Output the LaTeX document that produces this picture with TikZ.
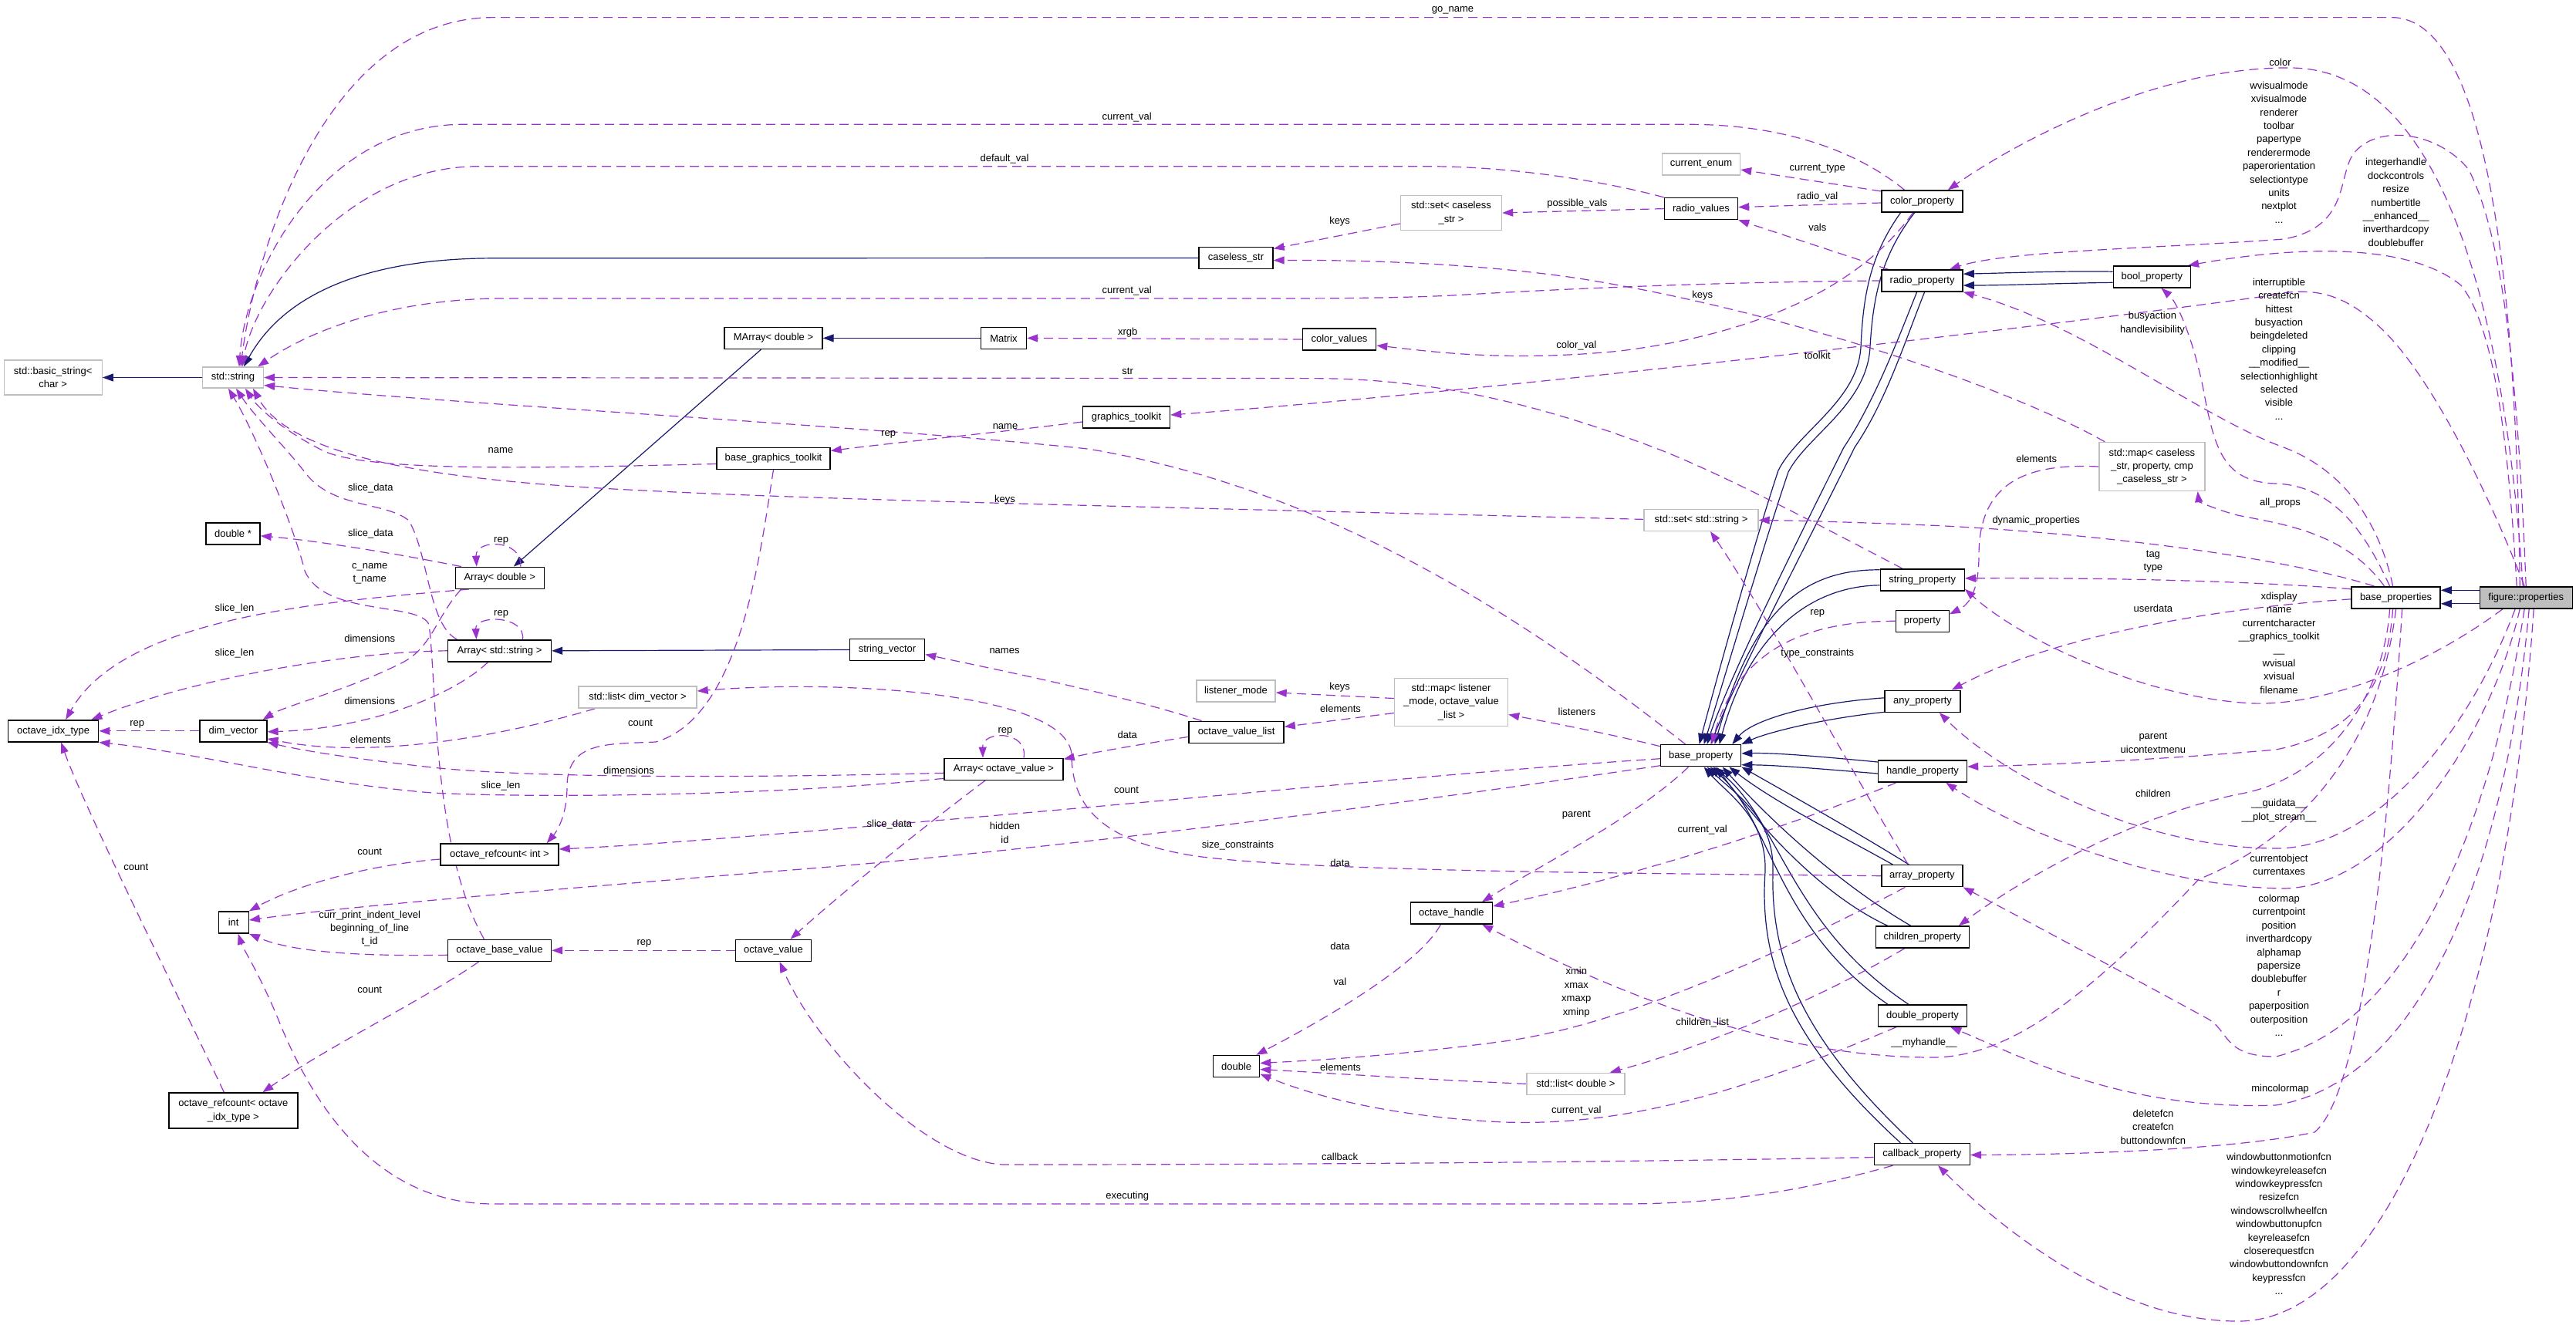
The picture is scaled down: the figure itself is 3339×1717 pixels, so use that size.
\documentclass[tikz,border=0pt]{standalone}
\usepackage{fontspec}
\setmainfont{Liberation Sans}
\usetikzlibrary{arrows.meta}
\definecolor{purp}{HTML}{9A32CD}
\definecolor{navy}{HTML}{191970}
\definecolor{gbord}{HTML}{BFBFBF}
\newcommand\dgfont{\fontsize{13}{17.4}\selectfont}
\pgfdeclarelayer{bglayer}
\pgfdeclarelayer{edgelayer}
\pgfsetlayers{bglayer,edgelayer,main}
\begin{document}
\begin{tikzpicture}[x=1pt,y=-1pt,
  cbox/.style={draw=black, line width=1.4pt, fill=white, inner sep=0pt, font=\dgfont, align=center, minimum height=28pt},
  gbox/.style={cbox, draw=gbord},
  elabel/.style={font=\dgfont, align=center, inner sep=0pt},
  usesarrow/.style={draw=purp, line width=1.2pt, dash pattern=on 12pt off 7pt, -{Triangle[length=14pt,width=10pt]}},
  inharrow/.style={draw=navy, line width=1.2pt, -{Triangle[length=14pt,width=10pt]}}]
\begin{pgfonlayer}{bglayer}
\path[fill=white] (0,0) rectangle (3339,1717);
\end{pgfonlayer}
\useasboundingbox (0,0) rectangle (3339,1717);
% ---------------- nodes ----------------
\node[gbox, minimum width=127pt, minimum height=45pt] (bstr) at (68.7,489.5) {std::basic\_string<\\char >};
\node[gbox, minimum width=79pt, minimum height=27pt] (sstr) at (302,489.5) {std::string};
\node[cbox, minimum width=96pt] (caseless) at (1602,334.5) {caseless\_str};
\node[cbox, minimum width=127pt] (marray) at (1002.5,438.4) {MArray< double >};
\node[cbox, minimum width=59pt] (matrix) at (1301,438.4) {Matrix};
\node[cbox, minimum width=113pt] (gtk) at (1460,541) {graphics\_toolkit};
\node[gbox, minimum width=101pt] (curenum) at (2205,213) {current\_enum};
\node[gbox, minimum width=131pt, minimum height=45pt] (setcl) at (1881,276) {std::set< caseless\\\_str >};
\node[cbox, minimum width=95pt] (radiovals) at (2205,270.6) {radio\_values};
\node[cbox, minimum width=105pt] (colorprop) at (2491.6,261) {color\_property};
\node[cbox, minimum width=105pt] (radioprop) at (2491.6,364) {radio\_property};
\node[cbox, minimum width=95pt] (colorvals) at (1736,440) {color\_values};
\node[cbox, minimum width=100pt] (boolprop) at (2789.4,358.9) {bool\_property};
\node[cbox, minimum width=70pt] (dblptr) at (302,691.8) {double *};
\node[cbox, minimum width=115pt] (arrd) at (647.8,749.3) {Array< double >};
\node[cbox, minimum width=134pt] (arrs) at (647.5,843.8) {Array< std::string >};
\node[cbox, minimum width=117pt] (idx) at (69.2,947.8) {octave\_idx\_type};
\node[cbox, minimum width=87pt] (dimv) at (302.4,947.8) {dim\_vector};
\node[gbox, minimum width=153pt] (listdim) at (826.5,904) {std::list< dim\_vector >};
\node[cbox, minimum width=153pt] (rcint) at (647.5,1108) {octave\_refcount< int >};
\node[cbox, minimum width=147pt] (bgtk) at (1002.5,594.5) {base\_graphics\_toolkit};
\node[cbox, minimum width=97pt] (strvec) at (1150,842.5) {string\_vector};
\node[gbox, minimum width=102pt] (lmode) at (1602,896) {listener\_mode};
\node[cbox, minimum width=123pt] (ovl) at (1602.6,949.3) {octave\_value\_list};
\node[cbox, minimum width=154pt] (arrov) at (1301,997.3) {Array< octave\_value >};
\node[gbox, minimum width=148pt] (setstr) at (2205,674.4) {std::set< std::string >};
\node[cbox, minimum width=109pt] (strprop) at (2491.7,751.8) {string\_property};
\node[cbox, minimum width=69pt] (prop) at (2491.7,805.3) {property};
\node[gbox, minimum width=147pt, minimum height=62pt] (maplis) at (1881,910.5) {std::map< listener\\\_mode, octave\_value\\\_list >};
\node[cbox, minimum width=98pt] (anyprop) at (2492,909.3) {any\_property};
\node[cbox, minimum width=104pt] (baseprop) at (2204.6,979.7) {base\_property};
\node[cbox, minimum width=115pt] (handprop) at (2492,1000) {handle\_property};
\node[cbox, minimum width=105pt] (arrprop) at (2491.4,1135.7) {array\_property};
\node[gbox, minimum width=137pt, minimum height=63pt] (mapcl) at (2789.4,605) {std::map< caseless\\\_str, property, cmp\\\_caseless\_str >};
\node[cbox, minimum width=115pt] (baseprops) at (3105.6,774.8) {base\_properties};
\node[cbox, fill=gbord, minimum width=120pt] (figprops) at (3274.2,774.8) {figure::properties};
\node[cbox, minimum width=39pt] (int) at (302.7,1196) {int};
\node[cbox, minimum width=134pt] (obv) at (647.5,1232.3) {octave\_base\_value};
\node[cbox, minimum width=167pt, minimum height=46pt] (rcidx) at (302.4,1440) {octave\_refcount< octave\\\_idx\_type >};
\node[cbox, minimum width=98pt] (ov) at (1002.5,1232.3) {octave\_value};
\node[cbox, minimum width=60pt] (dbl) at (1602.6,1382.5) {double};
\node[cbox, minimum width=106pt] (ohandle) at (1881.4,1184) {octave\_handle};
\node[gbox, minimum width=127pt] (listdbl) at (2042.4,1405.3) {std::list< double >};
\node[cbox, minimum width=121pt] (childprop) at (2491.7,1215) {children\_property};
\node[cbox, minimum width=115pt] (dblprop) at (2492,1317) {double\_property};
\node[cbox, minimum width=124pt] (cbprop) at (2491.4,1496.5) {callback\_property};
% ---------------- edges ----------------
\begin{pgfonlayer}{edgelayer}
% inheritance
\draw[inharrow] (sstr.west) -- (bstr.east);
\draw[inharrow] (caseless.west) -- (640,334.8) .. controls (520,334.8) and (380,360) .. ([xshift=14pt]sstr.north);
\draw[inharrow] (matrix.west) -- (marray.east);
\draw[inharrow] ([xshift=-16pt]marray.south) -- ([xshift=18pt]arrd.north);
\draw[inharrow] (strvec.west) -- (arrs.east);
\draw[inharrow] ([yshift=9.5pt]figprops.west) -- ([yshift=9.5pt]baseprops.east);
\draw[inharrow] ([yshift=-8pt]figprops.west) -- ([yshift=-8pt]baseprops.east);
\draw[inharrow] ([yshift=6.7pt]boolprop.west) .. controls (2680,351) and (2600,354) .. ([yshift=8.8pt]radioprop.east);
\draw[inharrow] ([yshift=-7.4pt]boolprop.west) .. controls (2680,367) and (2600,370) .. ([yshift=-6pt]radioprop.east);
% property classes -> base_property
\draw[inharrow] ([xshift=-28pt]colorprop.south) .. controls (2425,330) and (2415,380) .. (2412,450) .. controls (2408,520) and (2330,560) .. (2305,610) .. controls (2275,700) and (2225,880) .. ([xshift=-2pt]baseprop.north);
\draw[inharrow] ([xshift=-10pt]colorprop.south) .. controls (2440,330) and (2428,380) .. (2424,450) .. controls (2420,525) and (2342,565) .. (2318,612) .. controls (2288,700) and (2235,880) .. ([xshift=4pt]baseprop.north);
\draw[inharrow] ([xshift=-7pt]radioprop.south) .. controls (2460,440) and (2430,520) .. (2390,580) .. controls (2340,680) and (2240,880) .. ([xshift=8pt]baseprop.north);
\draw[inharrow] ([xshift=3pt]radioprop.south) .. controls (2470,440) and (2445,520) .. (2404,580) .. controls (2355,680) and (2250,880) .. ([xshift=13pt]baseprop.north);
\draw[inharrow] ([yshift=13pt]strprop.west) .. controls (2330,738) and (2270,800) .. ([xshift=18pt]baseprop.north);
\draw[inharrow] ([yshift=-7pt]strprop.west) .. controls (2340,760) and (2265,830) .. ([xshift=24pt]baseprop.north);
\draw[inharrow] ([yshift=4.5pt]anyprop.west) .. controls (2340,912) and (2270,935) .. ([xshift=-12pt]baseprop.north east);
\draw[inharrow] ([yshift=-14pt]anyprop.west) .. controls (2360,932) and (2290,950) .. (baseprop.north east);
\draw[inharrow] ([yshift=12pt]handprop.west) .. controls (2350,980) and (2300,976) .. ([yshift=2.8pt]baseprop.east);
\draw[inharrow] ([yshift=-3pt]handprop.west) .. controls (2350,996) and (2300,992) .. ([yshift=-12pt]baseprop.east);
\draw[inharrow] ([xshift=-17pt]arrprop.north) .. controls (2400,1075) and (2320,1030) .. (baseprop.south east);
\draw[inharrow] ([xshift=-38pt]arrprop.north) .. controls (2380,1080) and (2300,1040) .. ([xshift=-16pt]baseprop.south east);
\draw[inharrow] ([xshift=-45pt]childprop.north) .. controls (2360,1160) and (2280,1070) .. ([xshift=20pt]baseprop.south);
\draw[inharrow] ([xshift=-15pt]childprop.north) .. controls (2390,1150) and (2300,1070) .. ([xshift=28pt]baseprop.south);
\draw[inharrow] ([xshift=-45pt]dblprop.north) .. controls (2300,1200) and (2295,1060) .. ([xshift=12pt]baseprop.south);
\draw[inharrow] ([xshift=-18pt]dblprop.north) .. controls (2320,1200) and (2305,1060) .. ([xshift=16pt]baseprop.south);
\draw[inharrow] ([xshift=-28pt]cbprop.north) .. controls (2320,1350) and (2280,1250) .. (2288,1130) .. controls (2290,1060) and (2240,1030) .. ([xshift=4pt]baseprop.south);
\draw[inharrow] ([xshift=-12pt]cbprop.north) .. controls (2340,1350) and (2295,1250) .. (2298,1130) .. controls (2300,1060) and (2250,1030) .. ([xshift=8pt]baseprop.south);
% usage edges
\draw[usesarrow] ([xshift=-8pt]figprops.north) .. controls (3262,400) and (3230,22.6) .. (3100,22.6) -- (640,22.6) .. controls (420,22.6) and (330,330) .. ([xshift=10pt]sstr.north);
\draw[usesarrow] ([xshift=-4pt]figprops.north) .. controls (3250,450) and (3180,90) .. (2970,88) .. controls (2800,86) and (2620,180) .. ([xshift=-20pt]colorprop.north east);
\draw[usesarrow] (figprops.north) .. controls (3262,450) and (3240,300) .. (3200,220) .. controls (3160,170) and (3080,160) .. (3050,200) .. controls (3030,230) and (3045,295) .. (2960,310) .. controls (2800,322) and (2600,325) .. ([xshift=-18pt]radioprop.north east);
\draw[usesarrow] ([xshift=-12pt]figprops.north) .. controls (3250,550) and (3230,420) .. (3190,370) .. controls (3130,320) and (3000,315) .. ([xshift=-4pt]boolprop.north east);
\draw[usesarrow] ([xshift=-2pt]figprops.north) .. controls (3230,650) and (3150,480) .. (3080,420) .. controls (3030,375) and (2990,372) .. (2931,384.8) .. controls (2600,430) and (1900,510) .. ([yshift=3pt]gtk.east);
\draw[usesarrow] ([yshift=13pt]colorprop.west) -- ([yshift=-7pt]curenum.east);
\draw[usesarrow] ([yshift=-2pt]colorprop.west) -- ([yshift=2pt]radiovals.east);
\draw[usesarrow] ([xshift=-44pt]radioprop.north) -- (radiovals.south east);
\draw[usesarrow] (radiovals.west) -- (setcl.east);
\draw[usesarrow] (radiovals.north west) .. controls (2080,235) and (1960,215.7) .. (1850,215.7) -- (620,215.7) .. controls (450,215.7) and (330,380) .. ([xshift=12pt]sstr.north);
\draw[usesarrow] ([xshift=-23pt]colorprop.north) .. controls (2400,190) and (2300,161.3) .. (2190,161.3) -- (600,161.3) .. controls (420,161.3) and (318,350) .. ([xshift=8pt]sstr.north);
\draw[usesarrow] (radioprop.west) .. controls (2300,365) and (2100,370) .. (1883,383) .. controls (1800,387) and (1700,387) .. (1650,387) -- (640,387) .. controls (500,390) and (400,430) .. ([xshift=-8pt]sstr.north east);
\draw[usesarrow] ([xshift=8pt]mapcl.north west) .. controls (2600,500) and (2300,400) .. (2040,360) .. controls (1900,340) and (1750,337) .. ([yshift=-3pt]caseless.east);
\draw[usesarrow] ([yshift=-14pt]setcl.west) -- ([yshift=12pt]caseless.east);
\draw[usesarrow] ([xshift=-12pt]colorprop.south) .. controls (2420,360) and (2300,430) .. (2100,455) .. controls (1950,470) and (1850,455) .. ([yshift=-8pt]colorvals.east);
\draw[usesarrow] (colorvals.west) -- (matrix.east);
\draw[usesarrow] ([xshift=-26pt]strprop.north) .. controls (2300,650) and (2200,600) .. (2130,575) .. controls (1980,520) and (1850,490.6) .. (1700,490.6) -- (sstr.east);
\draw[usesarrow] ([yshift=-6pt]gtk.west) .. controls (1300,560) and (1150,575) .. ([yshift=10pt]bgtk.east);
\draw[usesarrow] ([xshift=-20pt]baseprop.north) .. controls (1950,780) and (1700,630) .. (1410,582) .. controls (1100,550) and (600,525) .. ([yshift=-10pt]sstr.east);
\draw[usesarrow] ([yshift=-7pt]bgtk.west) .. controls (700,607) and (480,612) .. (420,585) .. controls (370,560) and (335,530) .. ([xshift=16pt]sstr.south);
\draw[usesarrow] ([yshift=1pt]setstr.west) .. controls (1700,662) and (1100,650) .. (835,636) .. controls (600,625) and (380,600) .. ([xshift=26pt]sstr.south);
\draw[usesarrow] ([xshift=-55pt]arrs.north) .. controls (555,810) and (556,720) .. (530,675) .. controls (500,650) and (430,660) .. (395,612) .. controls (370,580) and (330,540) .. ([xshift=4pt]sstr.south);
\draw[usesarrow] ([xshift=-20pt]obv.north) .. controls (560,1100) and (566,880) .. (556,810) .. controls (545,780) and (420,800) .. (395,740) .. controls (380,680) and (330,560) .. ([xshift=-6pt]sstr.south);
\draw[usesarrow] ([xshift=-50pt]arrd.north) .. controls (500,715) and (400,700) .. ([yshift=-3pt]dblptr.east);
\draw[usesarrow] ([xshift=-40pt]arrd.south) .. controls (420,780) and (160,800) .. ([xshift=16pt]idx.north);
\draw[usesarrow] ([xshift=-50pt]arrd.south) .. controls (565,800) and (560,840) .. (520,860) .. controls (450,895) and (370,915) .. ([xshift=-6pt]dimv.north east);
\draw[usesarrow] (arrs.west) .. controls (450,845) and (250,880) .. ([xshift=-10pt]idx.north east);
\draw[usesarrow] ([xshift=-15pt]arrs.south) .. controls (590,900) and (480,945) .. ([yshift=-1pt]dimv.east);
\draw[usesarrow] ([xshift=-55pt]listdim.south) .. controls (650,955) and (480,985) .. ([yshift=-10pt]dimv.east);
\draw[usesarrow] ([yshift=-5pt]arrov.west) .. controls (1000,1008) and (700,1010) .. (560,995) .. controls (470,985) and (400,975) .. (dimv.south east);
\draw[usesarrow] ([yshift=-12pt]arrov.west) .. controls (1000,1032) and (700,1035) .. (560,1028) .. controls (400,1015) and (250,975) .. (idx.south east);
\draw[usesarrow] (dimv.west) -- (idx.east);
\draw[usesarrow] ([xshift=27pt]arrd.north) .. controls ([xshift=30pt,yshift=36pt]arrd.north) and ([xshift=-32pt,yshift=36pt]arrd.north) .. ([xshift=-30pt]arrd.north);
\draw[usesarrow] ([xshift=30pt]arrs.north) .. controls ([xshift=34pt,yshift=32pt]arrs.north) and ([xshift=-32pt,yshift=32pt]arrs.north) .. ([xshift=-30pt]arrs.north);
\draw[usesarrow] ([xshift=26pt]arrov.north) .. controls ([xshift=32pt,yshift=36pt]arrov.north) and ([xshift=-28pt,yshift=36pt]arrov.north) .. ([xshift=-27pt]arrov.north);
\draw[usesarrow] ([yshift=-6pt]rcint.west) .. controls (470,1122) and (380,1150) .. (int.north east);
\draw[usesarrow] (bgtk.south) .. controls (985,720) and (960,930) .. (850,962) .. controls (790,965) and (735,960) .. (735,1020) .. controls (735,1060) and (720,1080) .. ([xshift=-16pt]rcint.north east);
\draw[usesarrow] ([yshift=-4pt]baseprop.west) .. controls (1900,1000) and (1500,1040) .. (1200,1065) .. controls (1000,1082) and (850,1095) .. ([yshift=7pt]rcint.east);
\draw[usesarrow] ([yshift=-13pt]baseprop.west) .. controls (1900,1030) and (1400,1100) .. (1000,1130) .. controls (700,1155) and (450,1175) .. ([yshift=3pt]int.east);
\draw[usesarrow] ([yshift=-6pt]obv.west) .. controls (470,1240) and (380,1235) .. (int.south east);
\draw[usesarrow] ([xshift=-27pt]obv.south) .. controls (560,1290) and (420,1360) .. ([xshift=38pt]rcidx.north);
\draw[usesarrow] ([xshift=-12pt]rcidx.north) .. controls (250,1330) and (110,1050) .. ([xshift=10pt]idx.south);
\draw[usesarrow] (ov.west) -- (obv.east);
\draw[usesarrow] ([xshift=-38pt]cbprop.south) .. controls (2350,1540) and (2250,1561) .. (2100,1561) -- (640,1561) .. controls (480,1561) and (400,1420) .. (360,1320) .. controls (335,1260) and (315,1230) .. ([xshift=6pt]int.south);
\draw[usesarrow] ([xshift=-24pt]arrov.south) .. controls (1200,1070) and (1100,1150) .. ([xshift=22pt]ov.north);
\draw[usesarrow] ([yshift=-6pt]ovl.west) .. controls (1480,965) and (1420,975) .. ([yshift=13pt]arrov.east);
\draw[usesarrow] ([xshift=-45pt]ovl.north) .. controls (1450,900) and (1300,870) .. ([yshift=-6pt]strvec.east);
\draw[usesarrow] ([yshift=5pt]maplis.west) -- ([yshift=-2pt]lmode.east);
\draw[usesarrow] ([yshift=-14pt]maplis.west) -- ([yshift=7pt]ovl.east);
\draw[usesarrow] ([yshift=12pt]baseprop.west) .. controls (2080,950) and (2000,935) .. ([yshift=-16pt]maplis.east);
\draw[usesarrow] ([xshift=-16pt]baseprop.south) .. controls (2120,1060) and (2000,1120) .. ([xshift=-14pt]ohandle.north east);
\draw[usesarrow] ([xshift=-34pt]handprop.south) .. controls (2300,1080) and (2100,1140) .. ([yshift=9pt]ohandle.east);
\draw[usesarrow] ([xshift=-14pt]ohandle.south) .. controls (1840,1250) and (1720,1320) .. ([xshift=-5pt]dbl.north east);
\draw[usesarrow] ([xshift=-22pt]arrprop.south) .. controls (2300,1240) and (2100,1330) .. (1950,1350) .. controls (1800,1370) and (1700,1375) .. ([yshift=4pt]dbl.east);
\draw[usesarrow] ([xshift=-23pt]childprop.south) .. controls (2350,1300) and (2200,1360) .. ([xshift=-20pt]listdbl.north east);
\draw[usesarrow] (listdbl.west) .. controls (1850,1400) and (1700,1390) .. ([yshift=-4pt]dbl.east);
\draw[usesarrow] ([xshift=-34pt]dblprop.south) .. controls (2250,1420) and (2100,1460) .. (1950,1455) .. controls (1800,1448) and (1700,1420) .. ([yshift=-10pt]dbl.east);
\draw[usesarrow] ([yshift=-4pt]cbprop.west) .. controls (2200,1505) and (1800,1510) .. (1300,1510) .. controls (1200,1505) and (1060,1360) .. ([xshift=8pt]ov.south);
\draw[usesarrow] (arrprop.west) .. controls (2100,1132) and (1700,1130) .. (1550,1110) .. controls (1420,1090) and (1390,1040) .. (1389,980) .. controls (1388,900) and (1100,880) .. ([yshift=8pt]listdim.east);
\draw[usesarrow] ([xshift=-18pt]arrprop.north) .. controls (2400,1000) and (2280,780) .. ([xshift=12pt]setstr.south);
\draw[usesarrow] (prop.west) .. controls (2330,805) and (2250,850) .. ([xshift=14pt]baseprop.north);
\draw[usesarrow] ([xshift=-28pt]baseprops.north) .. controls (2950,720) and (2700,690) .. (2500,681) .. controls (2400,677) and (2330,675) .. (setstr.east);
\draw[usesarrow] ([xshift=-15pt]baseprops.north) .. controls (3040,690) and (2960,680) .. (2900,668) .. controls (2870,660) and (2850,650) .. ([xshift=-10pt]mapcl.south east);
\draw[usesarrow] (mapcl.west) .. controls (2620,600) and (2565,630) .. (2565,720) .. controls (2565,770) and (2550,785) .. ([yshift=9pt]prop.east);
\draw[usesarrow] ([yshift=11pt]baseprops.west) .. controls (2900,752) and (2700,749) .. ([yshift=2pt]strprop.east);
\draw[usesarrow] ([yshift=-2pt]baseprops.west) .. controls (2850,790) and (2650,830) .. ([xshift=-12pt]anyprop.north east);
\draw[usesarrow] ([xshift=-4pt]baseprops.north) .. controls (3085,680) and (3040,610) .. (2960,580) .. controls (2850,540) and (2700,420) .. (radioprop.south east);
\draw[usesarrow] ([xshift=-8pt]baseprops.north) .. controls (3070,700) and (3030,630) .. (2950,627) .. controls (2880,625) and (2870,580) .. (2855,500) .. controls (2840,430) and (2820,390) .. ([xshift=12pt]boolprop.south);
\draw[usesarrow] ([xshift=-30pt]figprops.south) .. controls (3150,860) and (3020,915) .. (2920,912) .. controls (2780,905) and (2620,830) .. ([yshift=-12pt]strprop.east);
\draw[usesarrow] ([xshift=-14pt]figprops.south) .. controls (3200,950) and (3080,1100) .. (2950,1100) .. controls (2780,1100) and (2600,1010) .. ([xshift=-28pt]anyprop.south east);
\draw[usesarrow] ([xshift=-8pt]figprops.south) .. controls (3230,950) and (3100,1150) .. (2960,1152) .. controls (2800,1150) and (2620,1080) .. ([xshift=-28pt]handprop.south east);
\draw[usesarrow] ([xshift=-2pt]figprops.south) .. controls (3240,1000) and (3150,1320) .. (2950,1370) .. controls (2880,1370) and (2890,1335) .. (2860,1320) .. controls (2750,1260) and (2620,1190) .. (arrprop.south east);
\draw[usesarrow] ([xshift=4pt]figprops.south) .. controls (3250,1100) and (3150,1400) .. (2950,1433) .. controls (2750,1440) and (2620,1370) .. ([xshift=-22pt]dblprop.south east);
\draw[usesarrow] ([xshift=10pt]figprops.south) .. controls (3250,1300) and (3100,1710) .. (2904,1713) .. controls (2750,1715) and (2600,1600) .. ([xshift=-42pt]cbprop.south east);
\draw[usesarrow] ([xshift=8pt]baseprops.south) .. controls (3095,1100) and (3060,1420) .. (3000,1468) .. controls (2900,1490) and (2700,1497) .. ([yshift=-1pt]cbprop.east);
\draw[usesarrow] (baseprops.south) .. controls (3080,1000) and (2950,1100) .. (2850,1140) .. controls (2700,1300) and (2600,1371) .. (2505,1371) .. controls (2300,1371) and (2100,1290) .. ([xshift=-14pt]ohandle.south east);
\draw[usesarrow] ([xshift=-8pt]baseprops.south) .. controls (3090,900) and (3020,1010) .. (2900,1030) .. controls (2760,1060) and (2620,1140) .. ([xshift=-14pt]childprop.north east);
\draw[usesarrow] ([xshift=-4pt]baseprops.south) .. controls (3095,880) and (3060,950) .. (2950,972) .. controls (2800,985) and (2650,992) .. ([yshift=6pt]handprop.east);
\end{pgfonlayer}
% ---------------- labels ----------------
\node[elabel] (l1) at (1883,13) {go\_name};
\node[elabel] (l2) at (1460.7,151.7) {current\_val};
\node[elabel] (l3) at (1302,206.4) {default\_val};
\node[elabel] (l4) at (1460.7,376.6) {current\_val};
\node[elabel] (l5) at (1461.7,431) {xrgb};
\node[elabel] (l6) at (1461.7,481) {str};
\node[elabel] (l7) at (1303,553) {name};
\node[elabel] (l8) at (1151.8,563) {rep};
\node[elabel] (l9) at (2355.8,219) {current\_type};
\node[elabel] (l10) at (2355.8,255.3) {radio\_val};
\node[elabel] (l11) at (2044.3,263.8) {possible\_vals};
\node[elabel] (l12) at (2355.8,294.9) {vals};
\node[elabel] (l13) at (1736.6,287.5) {keys};
\node[elabel] (l14) at (2206.7,383) {keys};
\node[elabel] (l15) at (2043.3,447.6) {color\_val};
\node[elabel] (l16) at (2355.8,460.6) {toolkit};
\node[elabel] (l17) at (2955.5,80.7) {color};
\node[elabel] (l18) at (2954,197.6) {wvisualmode\\xvisualmode\\renderer\\toolbar\\papertype\\renderermode\\paperorientation\\selectiontype\\units\\nextplot\\...};
\node[elabel] (l19) at (3105.6,262.5) {integerhandle\\dockcontrols\\resize\\numbertitle\\\_\_enhanced\_\_\\inverthardcopy\\doublebuffer};
\node[elabel] (l20) at (2790,419.3) {busyaction\\handlevisibility};
\node[elabel] (l21) at (2954,452.5) {interruptible\\createfcn\\hittest\\busyaction\\beingdeleted\\clipping\\\_\_modified\_\_\\selectionhighlight\\selected\\visible\\...};
\node[elabel] (l22) at (649,584) {name};
\node[elabel] (l23) at (480.3,632.9) {slice\_data};
\node[elabel] (l24) at (480.3,691.7) {slice\_data};
\node[elabel] (l25) at (649.6,701) {rep};
\node[elabel] (l26) at (479.2,743.5) {c\_name\\t\_name};
\node[elabel] (l27) at (304,788.6) {slice\_len};
\node[elabel] (l28) at (649.6,796) {rep};
\node[elabel] (l29) at (479.2,827.5) {dimensions};
\node[elabel] (l30) at (304,847.5) {slice\_len};
\node[elabel] (l31) at (479.2,908.5) {dimensions};
\node[elabel] (l32) at (177.8,938.9) {rep};
\node[elabel] (l33) at (830,937) {count};
\node[elabel] (l34) at (480.3,958.5) {elements};
\node[elabel] (l35) at (815,998.8) {dimensions};
\node[elabel] (l36) at (649,1019.5) {slice\_len};
\node[elabel] (l37) at (479.2,1104.6) {count};
\node[elabel] (l38) at (176.3,1124.6) {count};
\node[elabel] (l39) at (1302.5,648.4) {keys};
\node[elabel] (l40) at (1302,844.5) {names};
\node[elabel] (l41) at (1303,948.8) {rep};
\node[elabel] (l42) at (1461.2,952.5) {data};
\node[elabel] (l43) at (1460,1024.7) {count};
\node[elabel] (l44) at (1152.9,1068.7) {slice\_data};
\node[elabel] (l45) at (1302.5,1080) {hidden\\id};
\node[elabel] (l46) at (1604.4,1096.5) {size\_constraints};
\node[elabel] (l47) at (1736.6,890.8) {keys};
\node[elabel] (l48) at (1737.6,918.5) {elements};
\node[elabel] (l49) at (2043.8,922.6) {listeners};
\node[elabel] (l50) at (2355.8,795) {rep};
\node[elabel] (l51) at (2355.8,847.5) {type\_constraints};
\node[elabel] (l52) at (2043.3,1056.9) {parent};
\node[elabel] (l53) at (2206.7,1076) {current\_val};
\node[elabel] (l54) at (1737,1118.6) {data};
\node[elabel] (l55) at (2639.7,594.8) {elements};
\node[elabel] (l56) at (2955.5,652.5) {all\_props};
\node[elabel] (l57) at (2639.2,674.7) {dynamic\_properties};
\node[elabel] (l58) at (2790.9,728.3) {tag\\type};
\node[elabel] (l59) at (2790.9,788.6) {userdata};
\node[elabel] (l60) at (2954,833.5) {xdisplay\\name\\currentcharacter\\\_\_graphics\_toolkit\\\_\_\\wvisual\\xvisual\\filename};
\node[elabel] (l61) at (2790.9,963.3) {parent\\uicontextmenu};
\node[elabel] (l62) at (2790.9,1028.7) {children};
\node[elabel] (l63) at (2954,1051.3) {\_\_guidata\_\_\\\_\_plot\_stream\_\_};
\node[elabel] (l64) at (2954,1121.6) {currentobject\\currentaxes};
\node[elabel] (l65) at (479.2,1204) {curr\_print\_indent\_level\\beginning\_of\_line\\t\_id};
\node[elabel] (l66) at (479.2,1283.5) {count};
\node[elabel] (l67) at (835,1223) {rep};
\node[elabel] (l68) at (1461.2,1550.7) {executing};
\node[elabel] (l69) at (1737,1227) {data};
\node[elabel] (l70) at (1737,1273.2) {val};
\node[elabel] (l71) at (2043.3,1286.7) {xmin\\xmax\\xmaxp\\xminp};
\node[elabel] (l72) at (2206.7,1325.7) {children\_list};
\node[elabel] (l73) at (2494,1352) {\_\_myhandle\_\_};
\node[elabel] (l74) at (1737.6,1383.8) {elements};
\node[elabel] (l75) at (2043.3,1440) {current\_val};
\node[elabel] (l76) at (1736.6,1500.3) {callback};
\node[elabel] (l77) at (2954,1251.7) {colormap\\currentpoint\\position\\inverthardcopy\\alphamap\\papersize\\doublebuffer\\r\\paperposition\\outerposition\\...};
\node[elabel] (l78) at (2955.5,1411.9) {mincolormap};
\node[elabel] (l79) at (2790.9,1461) {deletefcn\\createfcn\\buttondownfcn};
\node[elabel] (l80) at (2954,1586.9) {windowbuttonmotionfcn\\windowkeyreleasefcn\\windowkeypressfcn\\resizefcn\\windowscrollwheelfcn\\windowbuttonupfcn\\keyreleasefcn\\closerequestfcn\\windowbuttondownfcn\\keypressfcn\\...};
\end{tikzpicture}
\end{document}
